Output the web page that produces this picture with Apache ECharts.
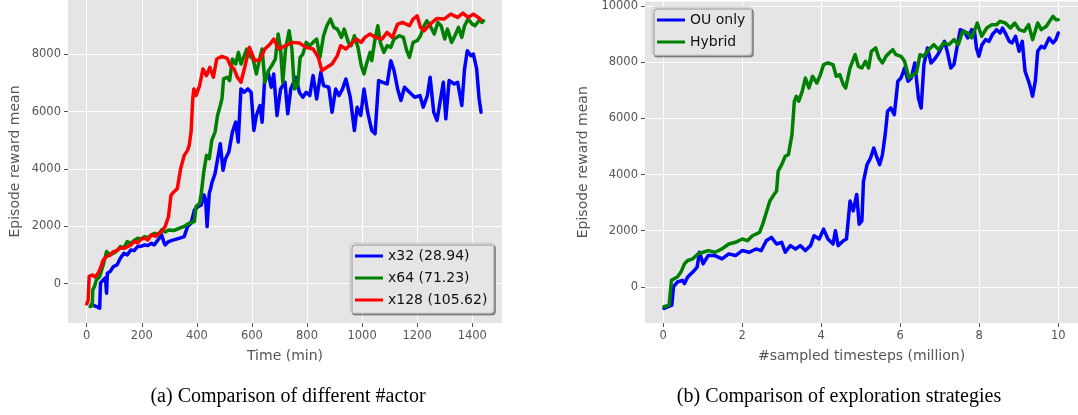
<!DOCTYPE html>
<html>
<head>
<meta charset="utf-8">
<script src="https://cdn.jsdelivr.net/npm/echarts@6/dist/echarts.min.js"></script>
<style>
  html, body { margin: 0; padding: 0; background: #ffffff; }
  #chart { width: 1078px; height: 415px; }
</style>
</head>
<body>
<div id="chart"></div>
<script>
// ---- (a) episode reward vs wall-clock time, per actor count ----
const x32Time = [16,25,35,47,50,60,68,72,75,85,97,110,122,135,147,160,172,185,197,210,222,235,245,254,272,280,285,297,316,335,354,366,379,391,404,416,426,432,437,445,450,454,466,472,485,495,504,516,529,541,550,560,572,585,597,607,616,629,637,647,660,670,679,691,704,720,730,741,760,772,785,797,810,822,835,850,860,879,891,904,916,929,941,957,972,982,995,1007,1020,1035,1047,1060,1075,1091,1104,1116,1129,1141,1154,1172,1191,1210,1222,1237,1247,1260,1272,1285,1295,1304,1316,1335,1347,1362,1372,1382,1395,1404,1416,1425,1432];
const x32Reward = [-744,-760,-802,-860,12,128,200,-337,360,418,593,651,884,1058,1000,1175,1150,1290,1300,1349,1330,1407,1350,1465,1698,1450,1349,1465,1523,1580,1640,1989,2105,2570,2686,2744,3094,2919,1989,3151,3314,3500,3836,3894,4880,3952,4358,4590,5286,5634,4938,6794,6678,6794,6678,5344,5866,6214,5634,7258,7316,6852,7316,5866,6794,7026,5924,6794,7200,6678,6504,6678,6562,7258,6446,7374,6910,6852,5982,6794,6562,6794,7142,6504,5344,6156,5866,6794,5982,5344,5228,7084,7026,6968,7780,7432,6794,6388,6852,6678,6504,6562,6156,6562,7200,5982,5692,6446,7026,5750,7084,6968,7026,6214,7490,8128,7954,8012,7490,6446,5982];

const x64Time = [12,20,22,28,35,47,60,72,85,97,110,122,135,147,160,172,185,197,210,222,235,247,260,272,285,297,316,335,354,372,391,397,410,416,425,435,445,454,466,475,485,491,497,510,519,529,541,551,560,572,581,591,604,616,629,637,647,660,672,685,695,704,712,722,735,745,754,766,775,785,797,810,822,835,847,860,872,885,897,910,925,935,950,960,972,985,997,1007,1016,1029,1035,1047,1057,1066,1079,1091,1104,1116,1135,1150,1162,1172,1185,1200,1212,1225,1235,1247,1262,1275,1287,1300,1310,1325,1337,1350,1362,1372,1385,1400,1410,1429,1435,1441];
const x64Reward = [-800,-780,-220,-100,128,244,650,1116,1000,1058,1150,1290,1250,1465,1407,1500,1580,1550,1640,1600,1700,1756,1700,1872,1800,1872,1850,1930,2000,2105,2163,2686,2802,3151,3894,4474,4358,4996,5286,5866,6214,6446,7142,7200,7084,7838,7664,8070,7664,7954,8186,7954,7838,7316,7896,8186,7026,7432,7606,7838,8708,8186,7026,8186,8824,8186,6794,6910,7896,8012,8418,8302,8418,8534,7896,8650,8998,9230,8940,8882,8592,8882,8418,8302,8650,8244,7606,7316,7664,8070,7780,8534,8998,8418,8070,8302,8244,8534,8650,8592,8128,7896,8418,8476,8650,8998,9172,8998,8708,9114,8998,8534,8882,8418,8650,8940,8592,8998,9230,9055,8998,9230,9114,9172];

const x128Time = [0,5,9,15,22,30,38,45,52,60,72,85,97,110,122,135,150,160,172,185,197,210,222,235,250,260,272,285,297,306,316,329,341,354,366,372,379,385,389,397,410,422,435,447,460,472,491,510,522,535,547,560,572,591,610,629,647,666,679,697,722,747,772,797,822,841,854,872,891,910,922,941,960,979,997,1010,1029,1047,1072,1091,1110,1129,1147,1172,1185,1200,1212,1225,1247,1272,1297,1322,1347,1366,1385,1404,1422,1432];
const x128Reward = [-710,-600,250,200,300,230,320,420,600,826,940,1000,1116,1150,1250,1230,1300,1350,1465,1420,1550,1580,1520,1700,1650,1750,1814,1990,2340,3082,3197,3314,4010,4474,4648,4822,5286,6446,6794,6562,6910,7490,7258,7548,7200,7838,7930,7861,7606,7490,7200,7026,7490,8244,7780,7814,8186,8360,8534,8186,8302,8418,8394,8244,8186,7896,7432,7548,7664,7954,8302,8186,8360,8534,8418,8592,8708,8592,8534,8766,8592,9055,9114,8998,9230,9346,8940,8824,9055,9253,9230,9404,9288,9438,9288,9404,9288,9206];

// ---- (b) episode reward vs sampled timesteps, per exploration strategy ----
const ouSteps = [0.02,0.22,0.26,0.36,0.49,0.54,0.62,0.75,0.86,0.92,1.01,1.14,1.31,1.49,1.66,1.83,2.0,2.18,2.35,2.48,2.61,2.74,2.87,3.0,3.09,3.22,3.35,3.47,3.6,3.73,3.82,3.95,4.06,4.17,4.3,4.36,4.43,4.56,4.64,4.73,4.81,4.9,4.96,5.03,5.07,5.16,5.25,5.33,5.4,5.48,5.55,5.62,5.68,5.76,5.85,5.94,6.02,6.11,6.2,6.28,6.37,6.46,6.53,6.6,6.69,6.78,6.86,6.95,7.04,7.12,7.19,7.28,7.36,7.45,7.52,7.62,7.71,7.81,7.88,7.93,7.99,8.07,8.16,8.25,8.33,8.44,8.53,8.59,8.68,8.76,8.83,8.92,9.01,9.09,9.16,9.25,9.31,9.35,9.42,9.48,9.57,9.65,9.77,9.87,9.94,10];
const ouReward = [-764,-647,0,176,235,118,353,529,706,1235,823,1117,1117,1000,1176,1117,1294,1235,1352,1294,1646,1764,1529,1588,1235,1470,1352,1470,1294,1470,1823,1705,2058,1705,1529,2000,1470,1646,1705,3058,2705,3293,2234,2352,3761,4355,4592,4948,4651,4355,4710,5422,6252,6371,6134,7320,7438,7794,7320,7438,7972,6727,6371,7913,8506,7972,8091,8268,8506,8743,8387,7794,7913,8624,9158,9099,8861,9158,9099,8506,8209,8624,8802,8743,8980,9158,9039,9217,8980,8743,8684,8921,8387,8743,7676,7320,7023,6786,7320,8387,8565,8506,8861,8684,8802,9039];

const hybridSteps = [0.02,0.15,0.19,0.21,0.28,0.36,0.45,0.54,0.62,0.75,0.88,1.01,1.14,1.31,1.49,1.66,1.83,2.0,2.13,2.26,2.44,2.52,2.61,2.7,2.78,2.87,2.91,3.0,3.09,3.17,3.26,3.32,3.37,3.43,3.52,3.6,3.69,3.78,3.89,3.98,4.06,4.17,4.3,4.38,4.47,4.56,4.62,4.73,4.86,4.94,5.03,5.12,5.2,5.27,5.38,5.46,5.55,5.64,5.72,5.81,5.89,6.02,6.11,6.22,6.33,6.41,6.5,6.59,6.72,6.85,6.97,7.1,7.23,7.36,7.47,7.58,7.71,7.81,7.95,8.06,8.19,8.32,8.44,8.53,8.66,8.79,8.9,9.01,9.14,9.25,9.35,9.48,9.57,9.7,9.78,9.87,9.94,10];
const hybridReward = [-705,-647,-600,235,294,353,529,823,941,1000,1176,1235,1294,1235,1352,1529,1588,1705,1646,1823,1940,2234,2646,3058,3234,3411,4118,4355,4651,4710,5422,6608,6786,6608,6964,7438,7082,7497,7260,7557,7913,7972,7913,7497,7557,7201,7082,7794,8268,7853,7794,8031,7794,8387,8506,8150,7972,8209,8328,8446,8268,8209,8031,7438,7557,7616,8268,8209,8446,8624,8446,8684,8624,8802,8624,9099,9039,8861,9395,8921,9217,9336,9336,9454,9395,9217,9395,9158,9099,9336,8802,9395,9158,9277,9454,9632,9514,9514];

// tick labels
const timeTicks = [0, 200, 400, 600, 800, 1000, 1200, 1400];
const rewardTicksA = [0, 2000, 4000, 6000, 8000];
const stepTicks = [0, 2, 4, 6, 8, 10];
const rewardTicksB = [0, 2000, 4000, 6000, 8000, 10000];

const legendA = ['x32 (28.94)', 'x64 (71.23)', 'x128 (105.62)'];
const legendB = ['OU only', 'Hybrid'];
const captions = ['(a) Comparison of different #actor', '(b) Comparison of exploration strategies'];

const BLUE = '#0000ff', GREEN = '#008000', RED = '#ff0000';
const FONT = '"DejaVu Sans", sans-serif';
const CAPTION_FONT = '20px "Liberation Serif", "Times New Roman", serif';

function zip(xs, ys) { return xs.map((x, i) => [x, ys[i]]); }

function valueAxis(gridIndex, min, max, ticks, name, nameGap, rotate) {
  return {
    type: 'value', gridIndex, min, max,
    name, nameLocation: 'middle', nameGap, nameRotate: rotate,
    nameTextStyle: { color: '#555555', fontSize: 14, fontFamily: FONT },
    axisLine: { show: false, onZero: false },
    axisTick: { show: true, inside: false, length: 4, customValues: ticks,
                lineStyle: { color: '#555555', width: 1 } },
    axisLabel: { color: '#555555', fontSize: 11.5, fontFamily: FONT, margin: 7,
                 customValues: ticks, formatter: v => String(v) },
    splitLine: { show: true, lineStyle: { color: '#ffffff', width: 1 } }
  };
}

function line(name, xi, data, color, z) {
  return {
    type: 'line', name, xAxisIndex: xi, yAxisIndex: xi, data,
    showSymbol: false, symbol: 'none', smooth: false, z,
    lineStyle: { color, width: 3.5, join: 'round', cap: 'round' },
    itemStyle: { color },
    emphasis: { disabled: true }, animation: false
  };
}

function legendBox(data, left, top) {
  return {
    data, left, top, orient: 'vertical', itemWidth: 28, itemHeight: 3, itemGap: 8,
    icon: 'rect',
    textStyle: { color: '#111111', fontSize: 14, fontFamily: FONT },
    backgroundColor: '#e5e5e5', borderColor: '#c8c8c8', borderWidth: 1, borderRadius: 3,
    padding: [6, 6, 6, 5],
    shadowColor: 'rgba(0,0,0,0.35)', shadowOffsetX: 2, shadowOffsetY: 2, shadowBlur: 0
  };
}

const chart = echarts.init(document.getElementById('chart'), null, { renderer: 'canvas' });
chart.setOption({
  animation: false,
  backgroundColor: '#ffffff',
  grid: [
    { left: 68, top: 0, width: 434, height: 323, backgroundColor: '#e5e5e5', show: true, borderWidth: 0 },
    { left: 645, top: 0, width: 435, height: 323, backgroundColor: '#e5e5e5', show: true, borderWidth: 0 }
  ],
  xAxis: [
    valueAxis(0, -68, 1508, timeTicks, 'Time (min)', 26, 0),
    valueAxis(1, -0.46, 10.5, stepTicks, '#sampled timesteps (million)', 26, 0)
  ],
  yAxis: [
    valueAxis(0, -1376, 9897, rewardTicksA, 'Episode reward mean', 46, 90),
    valueAxis(1, -1284, 10160, rewardTicksB, 'Episode reward mean', 55, 90)
  ],
  legend: [
    legendBox(legendA, 350, 243),
    legendBox(legendB, 652, 7)
  ],
  series: [
    line(legendA[0], 0, zip(x32Time, x32Reward), BLUE, 2),
    line(legendA[1], 0, zip(x64Time, x64Reward), GREEN, 3),
    line(legendA[2], 0, zip(x128Time, x128Reward), RED, 4),
    line(legendB[0], 1, zip(ouSteps, ouReward), BLUE, 2),
    line(legendB[1], 1, zip(hybridSteps, hybridReward), GREEN, 3)
  ],
  graphic: [
    { type: 'text', x: 288, y: 397, style: { text: captions[0], fill: '#000000',
      font: CAPTION_FONT, textAlign: 'center', textVerticalAlign: 'middle' } },
    { type: 'text', x: 839, y: 397, style: { text: captions[1], fill: '#000000',
      font: CAPTION_FONT, textAlign: 'center', textVerticalAlign: 'middle' } }
  ]
});
</script>
</body>
</html>
